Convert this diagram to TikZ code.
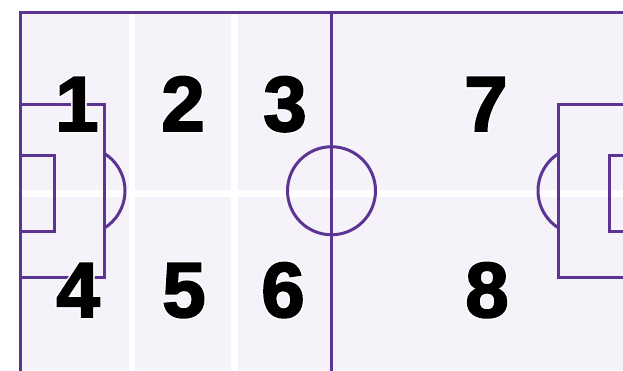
\documentclass[tikz,border=0pt]{standalone}
\usepackage{fontspec}
\usepackage[copies]{contour}
\usetikzlibrary{positioning}
\newfontfamily\zonefont[BoldFeatures={FakeBold=2.5}]{Liberation Sans}
\definecolor{pitchLine}{HTML}{5C3594}
\definecolor{pitchFill}{HTML}{F5F3F9}
\contourlength{1.3pt}
\contournumber{16}

\begin{document}
\begin{tikzpicture}[x=1pt,y=-1pt,
    pitchline/.style={pitchLine,line width=3pt},
    zonenum/.style={inner sep=0pt,anchor=base,
      font=\zonefont\bfseries\fontsize{78}{78}\selectfont}]
    \useasboundingbox[fill=white] (0,0) rectangle (623,370);
    % grass and zone gaps
    \fill[pitchFill] (20,12) rectangle (623,370);
    \fill[white] (128.5,12) rectangle (135,370);
    \fill[white] (231,12) rectangle (237.5,370);
    \fill[white] (20,190) rectangle (623,196.5);
    % touch line, goal line, halfway line
    \draw[pitchline] (20,380) -- (20,12) -- (640,12);
    \draw[pitchline] (331.5,12) -- (331.5,380);
    \draw[pitchline] (331.5,190.75) circle (44);
    % left end
    \draw[pitchline] (20,104) -- (104.5,104) -- (104.5,277.5) -- (20,277.5);
    \draw[pitchline] (20,155.5) -- (54,155.5) -- (54,231) -- (20,231);
    \begin{scope}
      \clip (104.5,0) rectangle (200,370);
      \draw[pitchline] (81,190.75) circle (44);
    \end{scope}
    % right end
    \draw[pitchline] (640,104) -- (558.5,104) -- (558.5,277.5) -- (640,277.5);
    \draw[pitchline] (640,155.5) -- (609,155.5) -- (609,231) -- (640,231);
    \begin{scope}
      \clip (450,0) rectangle (558.5,370);
      \draw[pitchline] (582,190.75) circle (44);
    \end{scope}
    % zone numbers
    \node[zonenum] (z1) at (77,131) {\contour{white}{1}};
    \node[zonenum] (z2) at (183,131) {\contour{white}{2}};
    \node[zonenum] (z3) at (285,131) {\contour{white}{3}};
    \node[zonenum] (z7) at (486,131) {\contour{white}{7}};
    \node[zonenum] (z4) at (78,317) {\contour{white}{4}};
    \node[zonenum] (z5) at (184,317) {\contour{white}{5}};
    \node[zonenum] (z6) at (283,317) {\contour{white}{6}};
    \node[zonenum] (z8) at (487,317) {\contour{white}{8}};
\end{tikzpicture}
\end{document}
